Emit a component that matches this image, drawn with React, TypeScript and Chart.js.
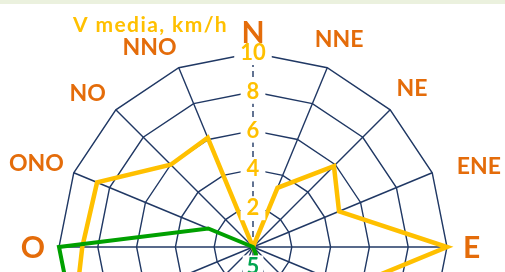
import React, { useEffect, useRef } from 'react';
import { Chart, registerables } from 'chart.js';

Chart.register(...registerables);

// ---- data ----
const directions = ['N', 'NNE', 'NE', 'ENE', 'E', 'ESE', 'SE', 'SSE', 'S', 'SSO', 'SO', 'OSO', 'O', 'ONO', 'NO', 'NNO'];
// mean wind speed, km/h (yellow)
const speedValues = [0, 3.3, 5.9, 4.8, 10.0, 5.4, 4.0, 3.0, 2.5, 3.5, 6.0, 10.0, 8.8, 8.7, 6.0, 6.1];
// frequency (green)
const freqValues = [0, 0, 0, 0, 0, 0, 0, 2, 20, 30, 40, 50, 50, 12.5, 0, 0];
const speedMin = 0;
const speedMax = 10;
const speedStep = 2;
const freqMin = 0;
const freqMax = 50;
const freqTickLabels = [5, 10, 20, 30, 40];
const speedTitle = 'V media, km/h';

// ---- styles / layout ----
const NAVY = '#203864';
const YELLOW = '#FFC000';
const GREEN = '#00A000';
const GREEN_LABEL = '#00A550';
const ORANGE = '#E46C0A';
const FONT = 'Lato, "Open Sans", sans-serif';
// small hand placement tweaks of the compass labels (px)
const labelNudge: Record<string, [number, number]> = {
  N: [0, 4],
  ENE: [12, 7],
  E: [2, 0],
  ONO: [2, 6],
  NO: [-5, 6],
  NNO: [-17, 9],
};

const overlayPlugin = {
  id: 'overlayText',
  afterDraw(chart: any) {
    const r = chart.scales.r;
    const r2 = chart.scales.r2;
    const ctx = chart.ctx;
    ctx.save();
    // direction labels around the rose
    directions.forEach((d, i) => {
      const size = d.length === 1 ? 30 : 23;
      ctx.font = `bold ${size}px ${FONT}`;
      const w = ctx.measureText(d).width;
      const cap = size * 0.72;
      const a = r.getIndexAngle(i);
      const support = (w / 2) * Math.abs(Math.sin(a)) + (cap / 2) * Math.abs(Math.cos(a));
      const p = r.getPointPosition(i, r.drawingArea + 14 + support);
      const [nx, ny] = labelNudge[d] || [0, 0];
      ctx.fillStyle = ORANGE;
      ctx.textAlign = 'center';
      ctx.textBaseline = 'alphabetic';
      ctx.fillText(d, p.x + nx, p.y + cap / 2 + ny);
    });
    // frequency tick labels along the S spoke
    const sIdx = directions.indexOf('S');
    ctx.font = `bold 22px ${FONT}`;
    freqTickLabels.forEach((v) => {
      const p = r2.getPointPositionForValue(sIdx, v);
      const t = String(v);
      const w = ctx.measureText(t).width;
      ctx.fillStyle = '#FFFFFF';
      ctx.fillRect(p.x - w / 2 - 4, p.y - 11, w + 8, 22);
      ctx.fillStyle = GREEN_LABEL;
      ctx.textAlign = 'center';
      ctx.textBaseline = 'middle';
      ctx.fillText(t, p.x, p.y + 1);
    });
    // series title
    ctx.font = `bold 21px ${FONT}`;
    try {
      (ctx as any).letterSpacing = '1.4px';
    } catch (e) {
      /* ignore */
    }
    ctx.fillStyle = YELLOW;
    ctx.textAlign = 'left';
    ctx.textBaseline = 'alphabetic';
    ctx.fillText(speedTitle, r.xCenter - 180, r.yCenter - 215);
    ctx.restore();
  },
};

export default function App() {
  const ref = useRef<HTMLCanvasElement | null>(null);
  useEffect(() => {
    document.body.style.margin = '0';
    const canvas = ref.current;
    if (!canvas) return;
    const tickFont = { family: FONT, weight: 'bold' as const, size: 22 };
    const chart = new Chart(canvas, {
      type: 'radar',
      data: {
        labels: directions,
        datasets: [
          {
            label: 'Frequenza',
            data: freqValues,
            rAxisID: 'r2',
            borderColor: GREEN,
            backgroundColor: 'rgba(0,0,0,0)',
            borderWidth: 4,
            fill: false,
            pointRadius: 0,
            pointHoverRadius: 0,
          } as any,
          {
            label: speedTitle,
            data: speedValues,
            rAxisID: 'r',
            borderColor: YELLOW,
            backgroundColor: 'rgba(0,0,0,0)',
            borderWidth: 4.5,
            fill: false,
            pointRadius: 0,
            pointHoverRadius: 0,
          } as any,
        ],
      },
      options: {
        responsive: false,
        animation: false,
        layout: { padding: { left: 47, right: 46, top: 41, bottom: 47 } },
        plugins: {
          legend: { display: false },
          title: { display: false },
          tooltip: { enabled: false },
        },
        elements: { line: { tension: 0 } },
        scales: {
          r: {
            type: 'radialLinear',
            min: speedMin,
            max: speedMax,
            startAngle: 0,
            grid: { color: NAVY, lineWidth: 1.4, circular: false },
            angleLines: {
              color: NAVY,
              lineWidth: 1.4,
              borderDash: (c: any) => (c.index === 0 ? [6, 4] : []),
            },
            pointLabels: { display: false },
            ticks: {
              stepSize: speedStep,
              z: 1,
              color: YELLOW,
              font: tickFont,
              showLabelBackdrop: true,
              backdropColor: '#FFFFFF',
              backdropPadding: { x: 6, y: 1 },
            },
          },
          r2: {
            type: 'radialLinear',
            axis: 'r',
            min: freqMin,
            max: freqMax,
            startAngle: 0,
            grid: { display: false },
            angleLines: { display: false },
            pointLabels: { display: false },
            ticks: {
              display: true,
              stepSize: 10,
              color: 'rgba(0,0,0,0)',
              font: tickFont,
              showLabelBackdrop: false,
              backdropPadding: { x: 6, y: 1 },
            },
          },
        } as any,
      },
      plugins: [overlayPlugin],
    });
    return () => chart.destroy();
  }, []);

  return (
    <div
      style={{
        position: 'fixed',
        left: 0,
        top: 0,
        width: 505,
        height: 272,
        overflow: 'hidden',
        background: '#FFFFFF',
      }}
    >
      <canvas ref={ref} width={505} height={500} style={{ position: 'absolute', left: 0, top: 0, width: 505, height: 500 }} />
      <div style={{ position: 'absolute', left: 0, top: 0, width: 505, height: 4, background: '#EBF1DE' }} />
    </div>
  );
}
